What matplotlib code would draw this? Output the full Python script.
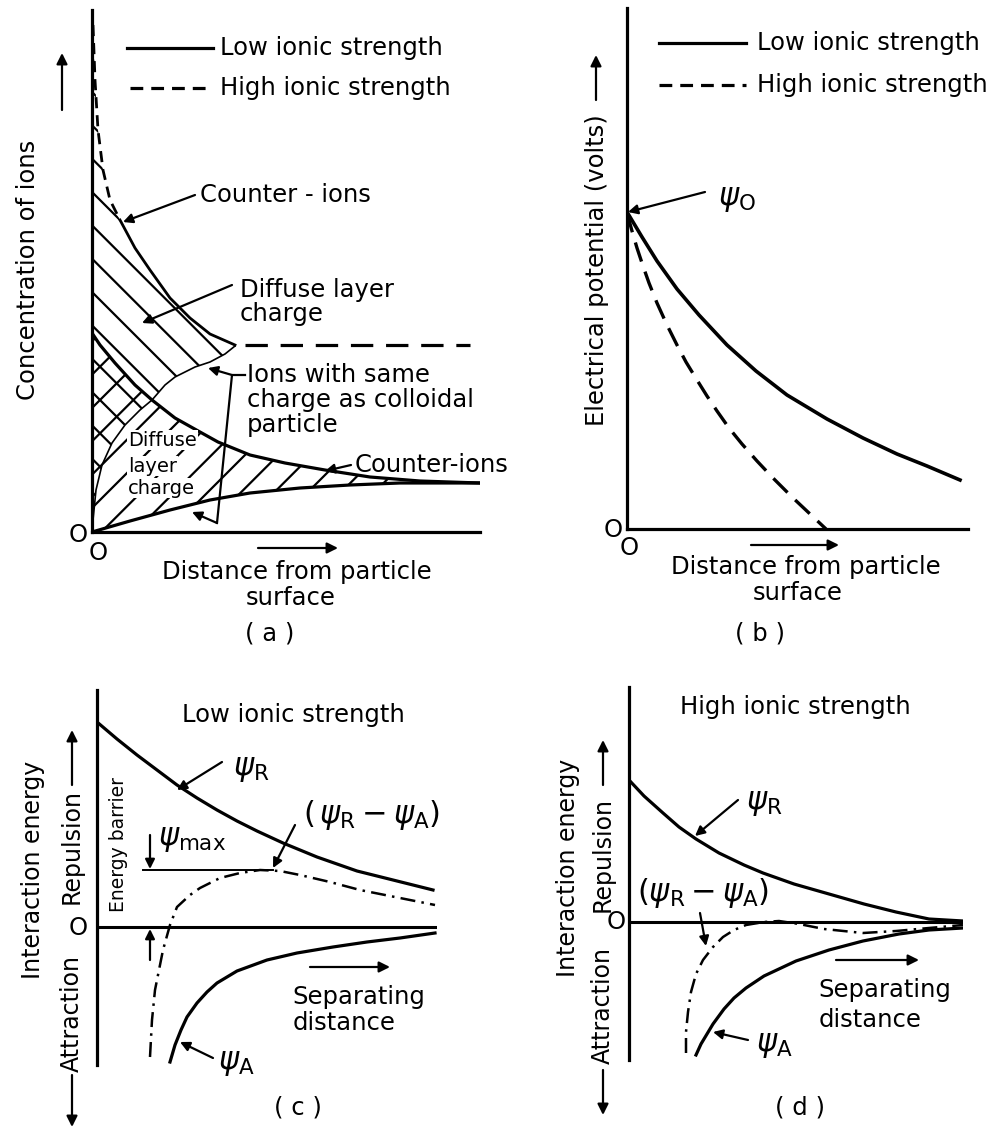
import matplotlib
matplotlib.use('Agg')
import matplotlib.pyplot as plt

plt.rcParams['font.family'] = ['DejaVu Sans']
plt.rcParams['mathtext.fontset'] = 'dejavusans'
plt.rcParams['hatch.linewidth'] = 1.6

W, H = 992, 1130

# --- (a) concentration of ions vs distance from particle surface
a_hi_counter_x = [1, 3, 6, 11, 18, 28, 43, 58, 78, 98, 118, 143]
a_hi_counter_y = [507, 452, 402, 362, 332, 312, 284, 262, 234, 214, 198, 187]
a_hi_co_x = [0, 4, 10, 20, 33, 48, 60, 73, 83, 103, 118, 133, 143]
a_hi_co_y = [2, 42, 67, 89, 107, 122, 132, 147, 155, 165, 170, 178, 186]
a_hi_bulk = 187
a_lo_counter_x = [0, 8, 23, 43, 60, 83, 108, 126, 158, 193, 233, 278, 328, 388]
a_lo_counter_y = [199, 187, 169, 147, 132, 114, 100, 90, 77, 69, 62, 55, 51, 49]
a_lo_co_x = [0, 38, 78, 118, 158, 208, 258, 308, 388]
a_lo_co_y = [0, 11, 22, 32, 39, 44, 47, 49, 49]

# --- (b) electrical potential vs distance
b_low_x = [0, 15, 30, 50, 72, 100, 129, 160, 200, 236, 270, 300, 333]
b_low_y = [317, 292, 268, 240, 214, 184, 158, 134, 110, 91, 75, 63, 49]
b_high_x = [0, 5, 10, 16, 22, 30, 40, 50, 59, 70, 80, 90, 102, 115, 130, 146, 165, 182, 199]
b_high_y = [316, 298, 281, 263, 246, 226, 204, 184, 167, 149, 133, 118, 101, 85, 68, 51, 32, 16, 0]

# --- (c) interaction energy, low ionic strength
c_rep_x = [0, 20, 40, 60, 80, 100, 120, 140, 160, 186, 220, 260, 300, 336]
c_rep_y = [205, 188, 172, 157, 142, 129, 117, 106, 96, 84, 70, 56, 46, 37]
c_att_x = [73, 78, 84, 90, 100, 110, 120, 140, 170, 200, 236, 270, 303, 338]
c_att_y = [-135, -118, -103, -90, -76, -65, -56, -44, -33, -26, -20, -15, -11, -6]
c_net_x = [53, 55, 58, 66, 73, 80, 93, 103, 123, 143, 163, 183, 203, 233, 263, 303, 338]
c_net_y = [-130, -93, -63, -23, 2, 20, 32, 39, 49, 54, 57, 56, 52, 45, 37, 29, 22]
c_max = 57

# --- (d) interaction energy, high ionic strength
d_rep_x = [0, 15, 34, 50, 67, 90, 115, 134, 165, 200, 235, 267, 300, 334]
d_rep_y = [142, 126, 109, 95, 83, 69, 57, 49, 38, 28, 18, 10, 3, 1]
d_att_x = [67, 72, 78, 84, 95, 105, 117, 135, 167, 200, 234, 270, 300, 334]
d_att_y = [-133, -122, -112, -102, -87, -76, -66, -54, -39, -28, -19, -12, -8, -6]
d_net_x = [57, 57, 59, 62, 67, 74, 84, 94, 105, 117, 135, 150, 170, 195, 234, 267, 300, 334]
d_net_y = [-131, -110, -90, -70, -52, -38, -25, -15, -8, -3, 0, 1, -2, -7, -11, -9, -6, -3]

FS = 17.5
PSI = 22
LW = 2.3

fig = plt.figure(figsize=(W / 100, H / 100), dpi=100)


def panel(left, top, right, bottom, xlim, ylim, bottom_spine=True):
    ax = fig.add_axes([left / W, 1 - bottom / H, (right - left) / W, (bottom - top) / H])
    ax.set_xlim(xlim)
    ax.set_ylim(ylim)
    ax.set_xticks([])
    ax.set_yticks([])
    ax.patch.set_visible(False)
    ax.spines['top'].set_visible(False)
    ax.spines['right'].set_visible(False)
    ax.spines['left'].set_linewidth(LW)
    if bottom_spine:
        ax.spines['bottom'].set_linewidth(LW)
    else:
        ax.spines['bottom'].set_visible(False)
    return ax


def arrow(ax, tail, head, lw=1.6, ms=16):
    ax.annotate('', xy=head, xytext=tail, annotation_clip=False,
                arrowprops=dict(arrowstyle='-|>', color='black', lw=lw,
                                mutation_scale=ms, shrinkA=0, shrinkB=0))


def txt(ax, x, y, s, ha='left', fs=FS, **kw):
    ax.text(x, y, s, ha=ha, va='center', fontsize=fs, clip_on=False, **kw)


# ================= (a)
ax = panel(92, 10, 480, 532, (0, 388), (0, 522))
ax.fill([0] + a_hi_counter_x + a_hi_co_x[::-1],
        [a_hi_counter_y[0]] + a_hi_counter_y + a_hi_co_y[::-1],
        facecolor='none', edgecolor='black', hatch='\\', linewidth=0)
ax.fill(a_lo_counter_x + a_lo_co_x[::-1], a_lo_counter_y + a_lo_co_y[::-1],
        facecolor='none', edgecolor='black', hatch='/', linewidth=0)
ax.plot(a_hi_counter_x[:6], a_hi_counter_y[:6], color='black', lw=2.0, dashes=(4, 2.5))
ax.plot(a_hi_counter_x[5:], a_hi_counter_y[5:], color='black', lw=2.0)
ax.plot([153, 378], [a_hi_bulk, a_hi_bulk], color='black', lw=LW, dashes=(7, 4))
ax.plot(a_hi_co_x, a_hi_co_y, color='black', lw=1.2)
ax.plot(a_lo_counter_x, a_lo_counter_y, color='black', lw=LW)
ax.plot(a_lo_co_x, a_lo_co_y, color='black', lw=LW)

ax.plot([35, 121], [484, 484], color='black', lw=LW)
ax.plot([38, 121], [444, 444], color='black', lw=LW, dashes=(4, 2.5))
txt(ax, 128, 484, 'Low ionic strength')
txt(ax, 128, 444, 'High ionic strength')

txt(ax, 108, 337, 'Counter - ions')
arrow(ax, (103, 337), (31, 310), ms=14)
txt(ax, 148, 242, 'Diffuse layer')
txt(ax, 148, 218, 'charge')
arrow(ax, (140, 247), (50, 209), ms=14)
txt(ax, 155, 157, 'Ions with same')
txt(ax, 155, 132, 'charge as colloidal')
txt(ax, 155, 107, 'particle')
ax.plot([153, 140, 125], [157, 157, 9], color='black', lw=1.6, clip_on=False)
arrow(ax, (140, 157), (116, 164), ms=14)
arrow(ax, (125, 9), (100, 20), ms=14)
txt(ax, 263, 67, 'Counter-ions')
arrow(ax, (259, 67), (233, 61), ms=14)
bb = dict(facecolor='white', edgecolor='none', pad=0.5)
txt(ax, 36, 92, 'Diffuse', fs=14, bbox=bb)
txt(ax, 36, 66, 'layer', fs=14, bbox=bb)
txt(ax, 36, 44, 'charge', fs=14, bbox=bb)

arrow(ax, (-30, 422), (-30, 479))
txt(ax, -64, 262, 'Concentration of ions', ha='center', rotation=90)
arrow(ax, (166, -16), (246, -16))
txt(ax, 205, -40, 'Distance from particle', ha='center')
txt(ax, 199, -66, 'surface', ha='center')
txt(ax, -14, -3, 'O', ha='center')
txt(ax, 6, -21, 'O', ha='center')
txt(ax, 178, -102, '( a )', ha='center')

# ================= (b)
ax = panel(627, 8, 968, 529, (0, 341), (0, 521))
ax.plot(b_low_x, b_low_y, color='black', lw=2.6)
ax.plot(b_high_x, b_high_y, color='black', lw=2.4, dashes=(6, 3.2))
ax.plot([32, 119], [486, 486], color='black', lw=LW)
ax.plot([32, 119], [444, 444], color='black', lw=LW, dashes=(4, 2.5))
txt(ax, 130, 486, 'Low ionic strength')
txt(ax, 130, 444, 'High ionic strength')
txt(ax, 91, 329, r'$\psi_{\rm O}$', fs=PSI)
arrow(ax, (78, 337), (1, 317), ms=14)
arrow(ax, (-31, 429), (-31, 474))
txt(ax, -30, 259, 'Electrical potential (volts)', ha='center', rotation=90)
arrow(ax, (124, -16), (212, -16))
txt(ax, 179, -38, 'Distance from particle', ha='center')
txt(ax, 171, -64, 'surface', ha='center')
txt(ax, -14, -1, 'O', ha='center')
txt(ax, 2, -19, 'O', ha='center')
txt(ax, 133, -104, '( b )', ha='center')

# ================= (c)
ax = panel(97, 690, 437, 1065, (0, 340), (-138, 237), bottom_spine=False)
ax.axhline(0, color='black', lw=2.2)
ax.plot(c_rep_x, c_rep_y, color='black', lw=LW)
ax.plot(c_att_x, c_att_y, color='black', lw=LW)
ax.plot(c_net_x, c_net_y, color='black', lw=1.8, dashes=(6, 2.5, 1, 2.5))
ax.plot([46, 176], [c_max, c_max], color='black', lw=1.4)
arrow(ax, (53, 92), (53, c_max + 1), ms=14)
arrow(ax, (53, -33), (53, -2), ms=14)
txt(ax, 61, 87, r'$\psi_{\rm max}$', fs=PSI)
txt(ax, 21, 82, 'Energy barrier', ha='center', fs=13.5, rotation=90)
txt(ax, 196, 212, 'Low ionic strength', ha='center')
txt(ax, 136, 157, r'$\psi_{\rm R}$', fs=PSI)
arrow(ax, (125, 165), (80, 137), ms=14)
txt(ax, 206, 112, r'$(\,\psi_{\rm R}-\psi_{\rm A})$', fs=PSI)
arrow(ax, (198, 102), (176, 59), ms=14)
txt(ax, 121, -136, r'$\psi_{\rm A}$', fs=PSI)
arrow(ax, (116, -131), (83, -115), ms=14)
arrow(ax, (213, -40), (293, -40))
txt(ax, 195, -70, 'Separating')
txt(ax, 196, -96, 'distance')
txt(ax, -19, -1, 'O', ha='center')
txt(ax, -64, 57, 'Interaction energy', ha='center', rotation=90, fs=17)
txt(ax, -25, 81, 'Repulsion', ha='center', rotation=90, fs=17)
arrow(ax, (-25, 142), (-25, 197))
txt(ax, -25, -86, 'Attraction', ha='center', rotation=90, fs=17)
arrow(ax, (-25, -148), (-25, -200))
txt(ax, 201, -180, '( c )', ha='center')

# ================= (d)
ax = panel(629, 687, 963, 1060, (0, 334), (-138, 235), bottom_spine=False)
ax.axhline(0, color='black', lw=2.2)
ax.plot(d_rep_x, d_rep_y, color='black', lw=LW)
ax.plot(d_att_x, d_att_y, color='black', lw=LW)
ax.plot(d_net_x, d_net_y, color='black', lw=1.8, dashes=(6, 2.5, 1, 2.5))
txt(ax, 166, 215, 'High ionic strength', ha='center')
txt(ax, 117, 119, r'$\psi_{\rm R}$', fs=PSI)
arrow(ax, (109, 122), (66, 86), ms=14)
txt(ax, 8, 29, r'$(\psi_{\rm R}-\psi_{\rm A})$', fs=PSI)
arrow(ax, (71, 9), (77, -24), ms=14)
txt(ax, 127, -123, r'$\psi_{\rm A}$', fs=PSI)
arrow(ax, (119, -118), (84, -110), ms=14)
arrow(ax, (207, -38), (290, -38))
txt(ax, 189, -68, 'Separating')
txt(ax, 190, -98, 'distance')
txt(ax, -13, 0, 'O', ha='center')
txt(ax, -61, 54, 'Interaction energy', ha='center', rotation=90, fs=17)
txt(ax, -26, 67, 'Repulsion', ha='center', rotation=90, fs=17)
arrow(ax, (-26, 137), (-26, 182))
txt(ax, -26, -84, 'Attraction', ha='center', rotation=90, fs=17)
arrow(ax, (-26, -148), (-26, -193))
txt(ax, 171, -186, '( d )', ha='center')

fig.savefig('out.png', dpi=100, facecolor='white')
